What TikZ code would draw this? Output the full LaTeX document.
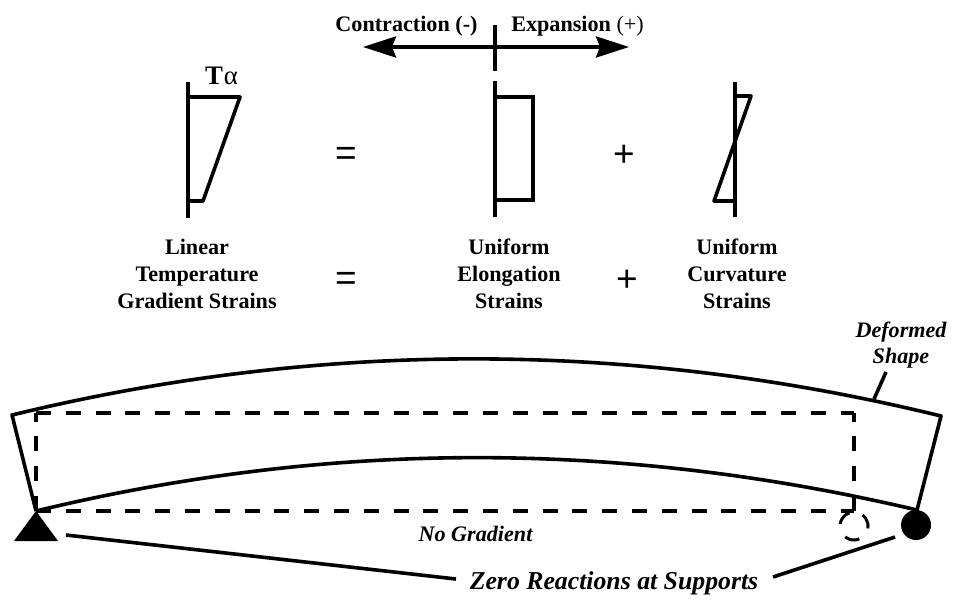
\documentclass[tikz,border=0pt]{standalone}
\usepackage{fontspec}
\setmainfont{Liberation Serif}
\newfontfamily\signfont{Liberation Sans}
\usetikzlibrary{arrows.meta}
\tikzset{
  beamline/.style={line width=0.036cm},
  dashline/.style={line width=0.04cm,dash pattern=on 0.15cm off 0.148cm},
  labeltext/.style={align=center,inner sep=0pt,font=\fontsize{6.3}{7.6}\selectfont\bfseries},
  noteitalic/.style={align=center,inner sep=0pt,font=\fontsize{6.3}{7.4}\selectfont\bfseries\itshape},
  signtext/.style={inner sep=0pt,font=\fontsize{10.5}{13}\selectfont\signfont},
  bigtip/.style={{Stealth[length=0.33cm,width=0.21cm,inset=0.04cm]}-{Stealth[length=0.33cm,width=0.21cm,inset=0.04cm]}}
}
\begin{document}
\begin{tikzpicture}[x=1cm,y=1cm]
\useasboundingbox (0,0) rectangle (9.54,6);

% sign convention
\coordinate (ContrEnd) at (3.63,5.53);
\coordinate (ExpanEnd) at (6.29,5.53);
\coordinate (AxisTop) at (4.95,5.75);
\coordinate (AxisBot) at (4.95,5.29);
\draw[beamline,bigtip] (ContrEnd) -- (ExpanEnd);
\draw[beamline] (AxisTop) -- (AxisBot);
\node[labeltext] (Contr) at (4.065,5.74) {Contraction (-)};
\node[labeltext] (Expan) at (5.775,5.74) {Expansion {\mdseries(+)}};

% strain diagrams
\draw[beamline] (1.88,5.18) -- (1.88,3.82);
\draw[beamline,line join=round] (1.88,5.03) -- (2.40,5.03) -- (2.03,3.99) -- (1.88,3.99);
\node[inner sep=0pt,font=\fontsize{7.6}{10}\selectfont] (Talpha) at (2.215,5.245) {\textbf{T}\kern0.3pt α};
\node[signtext] (EqOne) at (3.46,4.44) {=};

\draw[beamline] (4.95,5.19) -- (4.95,3.83);
\draw[beamline] (4.95,5.03) -- (5.33,5.03) -- (5.33,4.00) -- (4.95,4.00);
\node[signtext] (PlusOne) at (6.24,4.44) {+};

\draw[beamline] (7.35,5.18) -- (7.35,3.83);
\draw[beamline,line join=round] (7.35,5.04) -- (7.51,5.04) -- (7.14,3.99) -- (7.35,3.99);

% captions
\node[labeltext] (Linear) at (1.97,3.26) {Linear\\Temperature\\Gradient Strains};
\node[signtext] (EqTwo) at (3.46,3.19) {=};
\node[labeltext] (Elong) at (5.09,3.26) {Uniform\\Elongation\\Strains};
\node[signtext] (PlusTwo) at (6.27,3.19) {+};
\node[labeltext] (Curv) at (7.37,3.26) {Uniform\\Curvature\\Strains};

% beam
\draw[dashline] (0.36,1.87) -- (8.54,1.87);
\draw[dashline] (0.36,0.89) -- (8.54,0.89);
\draw[dashline] (0.36,0.89) -- (0.36,1.87);
\draw[dashline] (8.54,0.89) -- (8.54,1.87);
\draw[beamline,line join=round] (0.36,0.89) -- (0.12,1.85)
  .. controls (3.2,2.60) and (6.3,2.60) .. (9.41,1.84) -- (9.17,0.90);
\draw[beamline] (0.36,0.89) .. controls (3.3,1.60) and (6.2,1.60) .. (9.17,0.90);
\fill (0.36,0.89) -- (0.58,0.59) -- (0.14,0.59) -- cycle;
\fill (9.16,0.75) circle (0.15);
\draw[line width=0.03cm,dash pattern=on 0.15cm off 0.143cm,shift={(8.54,0.74)},rotate=-10] (0,0) circle (0.14);

% notes
\node[noteitalic] (Deformed) at (9.01,2.545) {Deformed\\Shape};
\coordinate (ShapeTop) at (8.86,2.28);
\coordinate (ShapePt) at (8.74,2.01);
\draw[beamline] (ShapeTop) -- (ShapePt);
\node[noteitalic] (NoGrad) at (4.755,0.665) {No Gradient};
\node[inner sep=0pt,font=\fontsize{7.33}{9}\selectfont\bfseries\itshape] (Zero) at (6.14,0.17) {Zero Reactions at Supports};
\coordinate (PinLead) at (0.66,0.65);
\coordinate (RollerLead) at (8.95,0.63);
\coordinate (ZeroLeft) at (4.56,0.21);
\coordinate (ZeroRight) at (7.73,0.23);
\draw[beamline] (PinLead) -- (ZeroLeft);
\draw[beamline] (ZeroRight) -- (RollerLead);
\end{tikzpicture}
\end{document}
